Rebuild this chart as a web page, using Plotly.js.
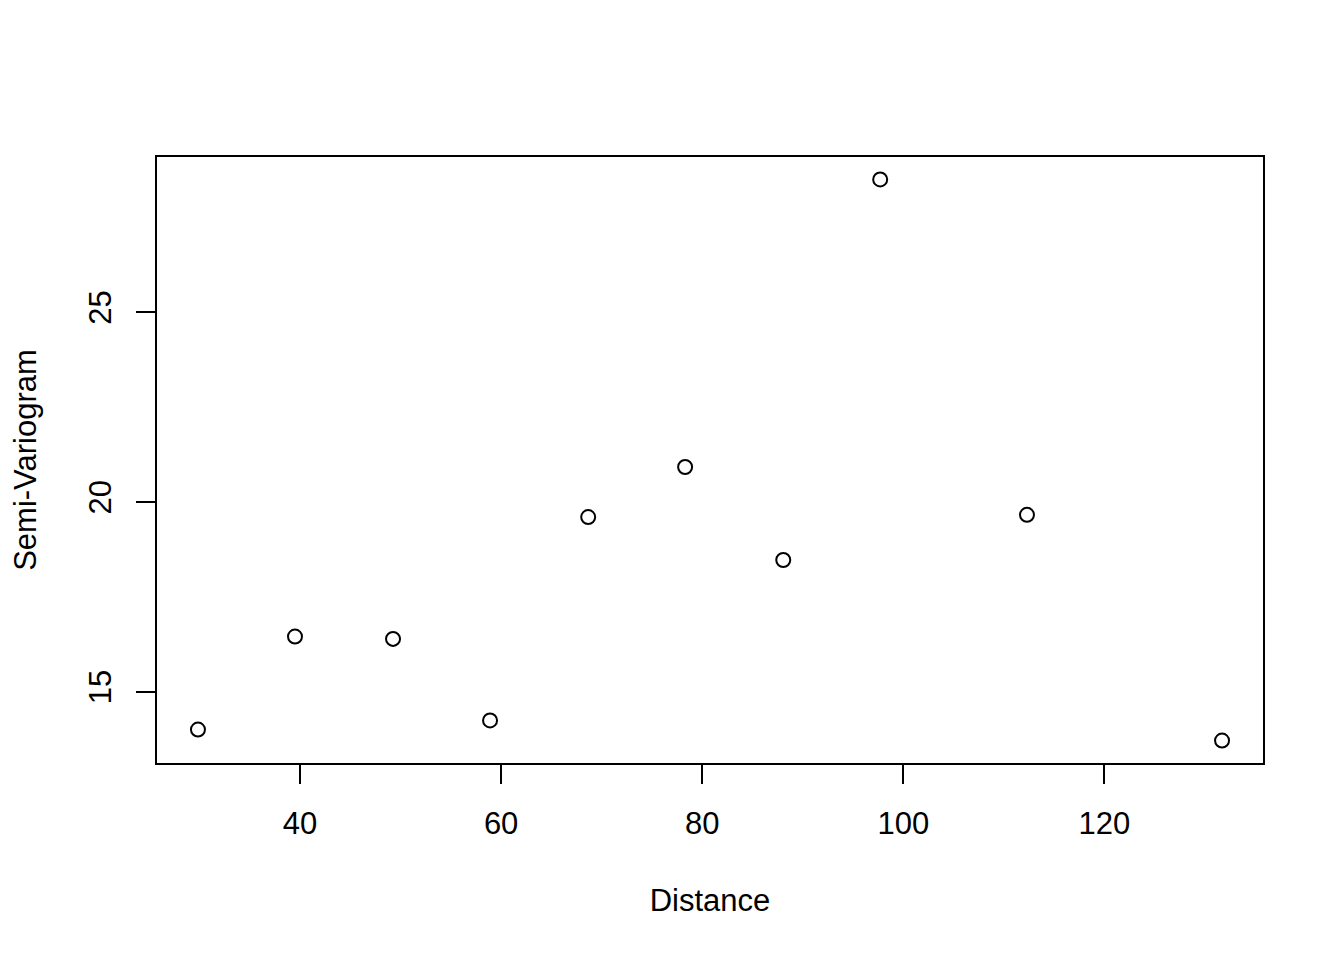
<!DOCTYPE html>
<html>
<head>
<meta charset="utf-8">
<script src="https://cdn.plot.ly/plotly-3.0.1.min.js"></script>
<style>html,body{margin:0;padding:0;background:#fff}</style>
</head>
<body>
<div id="chart" style="width:1344px;height:960px"></div>
<script>
const distance = [29.85, 39.5, 49.25, 58.9, 68.66, 78.3, 88.06, 97.7, 112.3, 131.7];
const semivariogram = [14.0, 16.45, 16.39, 14.24, 19.6, 20.92, 18.47, 28.5, 19.66, 13.71];
const xTicks = [40, 60, 80, 100, 120];
const yTicks = [15, 20, 25];

function padRange(v) {
  const lo = Math.min(...v), hi = Math.max(...v), d = (hi - lo) * 0.04;
  return [lo - d, hi + d];
}

const font = {family: 'Liberation Sans, Arial, Helvetica, sans-serif', size: 31, color: '#000'};

const trace = {
  x: distance, y: semivariogram, type: 'scatter', mode: 'markers',
  marker: {symbol: 'circle-open', size: 14, color: '#000', line: {width: 2, color: '#000'}},
  hoverinfo: 'x+y'
};

const layout = {
  width: 1344, height: 960,
  margin: {l: 157, r: 81, t: 157, b: 197},
  paper_bgcolor: '#fff', plot_bgcolor: '#fff',
  font: font,
  showlegend: false,
  xaxis: {
    range: padRange(distance), tickvals: xTicks, ticktext: xTicks.map(String),
    ticks: 'outside', ticklen: 19, tickwidth: 2, tickcolor: '#000',
    showline: true, linewidth: 2, linecolor: '#000', mirror: true,
    showgrid: false, zeroline: false, tickfont: font,
    ticklabelstandoff: 13,
    title: {text: 'Distance', font: font, standoff: 49}
  },
  yaxis: {
    range: padRange(semivariogram), tickvals: yTicks, ticktext: yTicks.map(String),
    ticks: 'outside', ticklen: 19, tickwidth: 2, tickcolor: '#000',
    showline: true, linewidth: 2, linecolor: '#000', mirror: true,
    showgrid: false, zeroline: false, tickfont: font, tickangle: -90,
    ticklabelstandoff: 13,
    title: {text: 'Semi-Variogram', font: font, standoff: 37}
  }
};

Plotly.newPlot('chart', [trace], layout, {displayModeBar: false, staticPlot: true});
</script>
</body>
</html>
